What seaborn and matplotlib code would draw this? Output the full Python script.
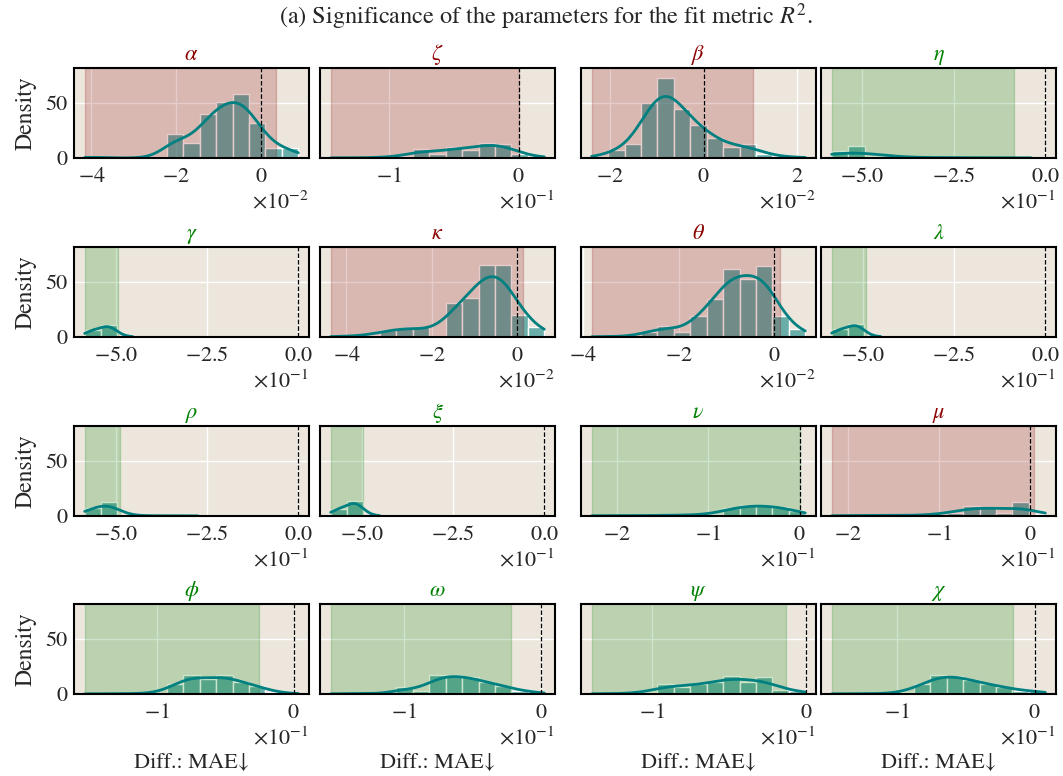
import numpy as np
import matplotlib
matplotlib.use("Agg")
import matplotlib.pyplot as plt
import seaborn as sns

# ---- parameters shown, one panel each (row-major) ----
titles = [r"$\alpha$", r"$\zeta$", r"$\beta$", r"$\eta$",
          r"$\gamma$", r"$\kappa$", r"$\theta$", r"$\lambda$",
          r"$\rho$", r"$\xi$", r"$\nu$", r"$\mu$",
          r"$\phi$", r"$\omega$", r"$\psi$", r"$\chi$"]
# "ns": interval reaches zero, "sig": interval entirely below zero
verdicts = ["ns", "ns", "ns", "sig",
            "sig", "ns", "ns", "sig",
            "sig", "sig", "sig", "ns",
            "sig", "sig", "sig", "sig"]

# range of the differences (MAE) per parameter
data_lo = [-4.16e-2, -1.455e-1, -2.40e-2, -5.84e-1,
           -5.87e-1, -4.37e-2, -3.82e-2, -5.87e-1,
           -5.87e-1, -5.87e-1, -2.275e-1, -2.18e-1,
           -1.525e-1, -1.536e-1, -1.39e-1, -1.472e-1]
data_hi = [0.886e-2, 0.20e-1, 2.18e-2, -0.39e-1,
           -4.55e-1, 0.63e-2, 0.65e-2, -4.52e-1,
           -2.76e-1, -4.53e-1, 0.062e-1, 0.17e-1,
           0.034e-1, 0.023e-1, -0.005e-1, 0.077e-1]

# interval highlighted behind each histogram
span_lo = [-4.16e-2, -1.455e-1, -2.40e-2, -5.84e-1,
           -5.87e-1, -4.37e-2, -3.82e-2, -5.87e-1,
           -5.87e-1, -5.87e-1, -2.275e-1, -2.18e-1,
           -1.525e-1, -1.536e-1, -1.39e-1, -1.472e-1]
span_hi = [0.37e-2, 0.005e-1, 1.06e-2, -0.86e-1,
           -4.95e-1, 0.12e-2, 0.12e-2, -4.93e-1,
           -4.91e-1, -4.97e-1, 0.005e-1, 0.04e-1,
           -0.255e-1, -0.22e-1, -0.133e-1, -0.156e-1]

# histogram densities (equal-width bins spanning data_lo..data_hi)
hist_alpha = [1.2, 0, 0, 0, 1.2, 21.6, 13.7, 40.0, 50.3, 58.2, 32.0, 9.5, 9.1]
hist_zeta = [0.5, 0, 0.3, 0.8, 1.5, 8.5, 3.9, 10.0, 7.6, 13.6, 13.0, 3.9, 1.0]
hist_beta = [1.5, 7.0, 12.4, 50.0, 72.7, 44.0, 29.7, 18.2, 10.0, 12.4, 4.0, 1.0, 0.8]
hist_eta = [6.4, 10.6, 1.5, 0.8, 0.4, 0.4, 0.3, 0.3, 0.3, 0.3, 0.3, 0.3]
hist_gamma = [6.4, 11.0, 0.5]
hist_kappa = [0.8, 0.5, 2.0, 6.4, 8.0, 8.9, 1.2, 31.0, 35.6, 65.3, 65.3, 20.2, 9.5]
hist_theta = [0.5, 0.3, 0.6, 4.9, 10.0, 4.3, 19.3, 34.7, 61.7, 52.5, 64.7, 19.3, 7.4]
hist_lambda = [7.0, 12.0, 0.5]
hist_rho = [7.5, 12.7, 0.8, 0.3, 0.2, 0.2, 0.2]
hist_xi = [6.6, 13.6, 0.5]
hist_nu = [0.6, 0.2, 0.3, 0.5, 0.6, 0.8, 1.0, 1.4, 7.5, 9.7, 9.7, 8.4, 4.4]
hist_mu = [0.5, 0.5, 0.5, 0.5, 0.5, 0.5, 1.5, 3.0, 9.0, 8.4, 2.8, 12.9, 2.0]
hist_phi = [0.3, 0.2, 0.3, 0.5, 1.0, 8.7, 17.0, 13.2, 17.0, 11.0, 7.5, 2.0, 0.5]
hist_omega = [0.3, 0.3, 0.3, 0.3, 6.0, 2.7, 17.0, 17.0, 15.0, 10.6, 7.6, 3.0, 1.5]
hist_psi = [0.3, 0.3, 0.6, 1.5, 8.7, 6.6, 8.7, 10.5, 16.5, 11.1, 15.0, 3.6, 3.0]
hist_chi = [0.3, 0.3, 0.3, 0.3, 2.0, 8.7, 17.0, 16.5, 12.6, 8.7, 6.6, 2.7, 3.0]
densities = [hist_alpha, hist_zeta, hist_beta, hist_eta,
             hist_gamma, hist_kappa, hist_theta, hist_lambda,
             hist_rho, hist_xi, hist_nu, hist_mu,
             hist_phi, hist_omega, hist_psi, hist_chi]

# x tick values
xticks = [[-0.04, -0.02, 0.0], [-0.1, 0.0], [-0.02, 0.0, 0.02], [-0.5, -0.25, 0.0],
          [-0.5, -0.25, 0.0], [-0.04, -0.02, 0.0], [-0.04, -0.02, 0.0], [-0.5, -0.25, 0.0],
          [-0.5, -0.25, 0.0], [-0.5, -0.25, 0.0], [-0.2, -0.1, 0.0], [-0.2, -0.1, 0.0],
          [-0.1, 0.0], [-0.1, 0.0], [-0.1, 0.0], [-0.1, 0.0]]
yticks = [0, 50]
suptitle = "(a) Significance of the parameters for the fit metric $R^2$."
xlabel = "Diff.: MAE\u2193"
ylabel = "Density"

# KDE smoothing per panel (binned input needs wider kernels when bins are few)
kde_bw = [0.6, 0.6, 0.6, 0.7,
          0.8, 0.6, 0.6, 0.8,
          0.7, 0.8, 0.6, 0.6,
          0.6, 0.6, 0.6, 0.6]

TEAL = "teal"
verdict_color = {"ns": "darkred", "sig": "green"}

sns.set_theme(style="darkgrid", rc={
    "axes.facecolor": "#ece6dd",
    "axes.edgecolor": "black",
    "axes.linewidth": 1.5,
    "grid.color": "white",
    "grid.linewidth": 1.0,
    "xtick.major.size": 0,
    "ytick.major.size": 0,
    "xtick.major.pad": 6.5,
    "ytick.major.pad": 5,
})
plt.rcParams["font.family"] = ["STIXGeneral", "DejaVu Serif"]
plt.rcParams["mathtext.fontset"] = "stix"
for key in ["font.size", "axes.titlesize", "axes.labelsize",
            "xtick.labelsize", "ytick.labelsize"]:
    plt.rcParams[key] = 16

W, H = 1063, 776
fig, axes = plt.subplots(4, 4, figsize=(W / 100, H / 100), dpi=100, sharey=True)

col_left = [74, 320, 581, 821]
col_w = 235
row_top = [68, 247, 426, 604]
row_h = 90

for i, ax in enumerate(axes.flat):
    r, c = divmod(i, 4)
    ax.set_position([col_left[c] / W, 1 - (row_top[r] + row_h) / H,
                     col_w / W, row_h / H])

    h = np.asarray(densities[i], dtype=float)
    edges = np.linspace(data_lo[i], data_hi[i], len(h) + 1)
    centers = 0.5 * (edges[:-1] + edges[1:])
    x = np.r_[data_lo[i], centers, data_hi[i]]
    w = np.r_[0.0, h, 0.0]

    sns.histplot(x=x, weights=w, bins=edges.tolist(), stat="count", kde=True,
                 color=TEAL, alpha=0.55, edgecolor="white", linewidth=1.0,
                 kde_kws={"bw_adjust": kde_bw[i]}, line_kws={"linewidth": 2.0},
                 ax=ax)
    col = verdict_color[verdicts[i]]
    ax.axvspan(span_lo[i], span_hi[i], color=col, alpha=0.2, zorder=1.5)
    ax.axvline(0, color="black", ls="--", lw=0.9, zorder=3)

    ax.set_title(titles[i], color=col)
    ax.set_xticks(xticks[i])
    ax.ticklabel_format(axis="x", style="sci", scilimits=(0, 0), useMathText=True)
    ax.xaxis.get_offset_text().set_fontsize(16)
    ax.set_ylim(0, 81.5)
    ax.set_yticks(yticks)
    ax.set_ylabel(ylabel if c == 0 else "", labelpad=6, fontsize=17)
    if r == 3:
        ax.set_xlabel(xlabel, labelpad=22)
    else:
        ax.set_xlabel("")
    for sp in ax.spines.values():
        sp.set_visible(True)
        sp.set_color("black")
        sp.set_linewidth(1.5)

fig.text(546 / W, 1 - 17 / H, suptitle, ha="center", va="center", fontsize=17.5)
fig.savefig("out.png", dpi=100)
